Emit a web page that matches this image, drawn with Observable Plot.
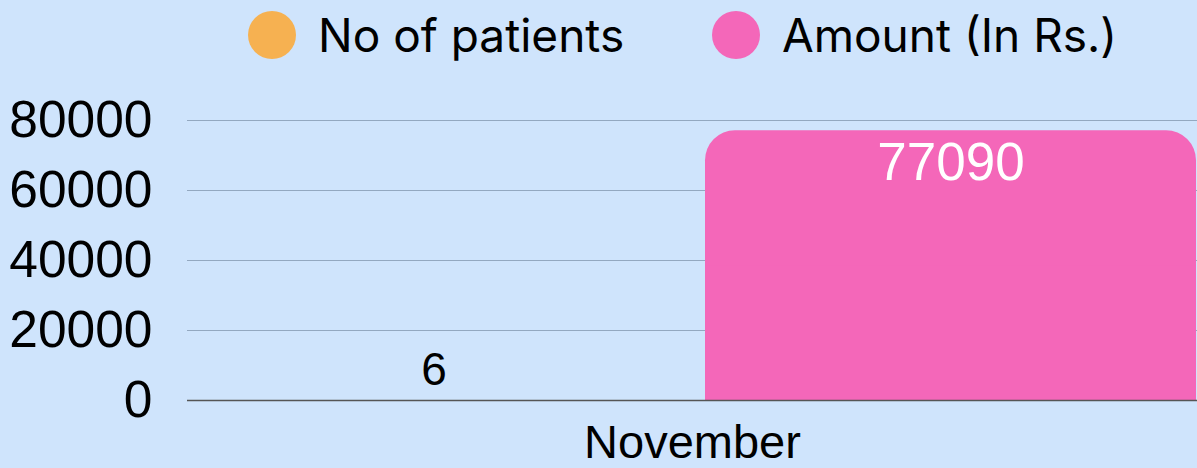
<!DOCTYPE html>
<html>
<head>
<meta charset="utf-8">
<script src="https://cdn.jsdelivr.net/npm/d3@7"></script>
<script src="https://cdn.jsdelivr.net/npm/@observablehq/plot@0.6"></script>
<style>
  html, body { margin: 0; padding: 0; background: #cfe4fc; width: 1197px; height: 468px; overflow: hidden; }
  #legend { height: 70px; position: relative; font-family: Inter, "Noto Sans", sans-serif; font-size: 46px; color: #000; }
  .item { position: absolute; top: 0; height: 70px; display: flex; align-items: center; }
  .sw { width: 48px; height: 48px; border-radius: 50%; margin-right: 22px; }
  #chart svg { display: block; }
</style>
</head>
<body>
<div id="legend"></div>
<div id="chart"></div>
<script>
const months = ["November"];
const seriesNames = ["No of patients", "Amount (In Rs.)"];
const seriesColors = ["#f6b151", "#f467b9"];
const patients = [6];
const amounts = [77090];
const yTicks = [0, 20000, 40000, 60000, 80000];

const data = [];
months.forEach((m, i) => {
  data.push({month: m, series: seriesNames[0], value: patients[i]});
  data.push({month: m, series: seriesNames[1], value: amounts[i]});
});

// legend
const legend = document.getElementById("legend");
const legendX = [248, 712];
seriesNames.forEach((s, i) => {
  const it = document.createElement("div");
  it.className = "item";
  it.style.left = legendX[i] + "px";
  const sw = document.createElement("div");
  sw.className = "sw";
  sw.style.background = seriesColors[i];
  const t = document.createElement("span");
  t.textContent = s;
  it.appendChild(sw); it.appendChild(t);
  legend.appendChild(it);
});

const maxV = d3.max(data, d => d.value);
const font = "'Liberation Sans', Arial, sans-serif";

const chart = Plot.plot({
  width: 1197,
  height: 398,
  marginTop: 50,
  marginBottom: 68,
  marginLeft: 187,
  marginRight: 0,
  style: {background: "transparent", fontFamily: font, fontSize: "50px", color: "#000", overflow: "visible"},
  fx: {domain: months, padding: 0, label: null},
  x: {domain: seriesNames, paddingInner: 0.05, paddingOuter: 0, axis: null},
  y: {domain: [0, 80000], label: null},
  color: {domain: seriesNames, range: seriesColors},
  marks: [
    Plot.ruleY(yTicks.filter(d => d > 0), {stroke: "#93a8c0", strokeWidth: 1.2}),
    Plot.barY(data, {fx: "month", x: "series", y: "value", fill: "series", rx: 30}),
    Plot.barY(data, {fx: "month", x: "series", y: d => d.value / 2, fill: "series"}),
    Plot.ruleY([0], {stroke: "#555", strokeWidth: 1.5}),
    Plot.axisY(yTicks, {tickSize: 0, tickPadding: 35, label: null, tickFormat: d => String(d), fontSize: 51.5}),
    Plot.axisFx({anchor: "bottom", tickSize: 0, tickPadding: 24, label: null, fontSize: 47}),
    Plot.text(data.filter(d => d.value < maxV * 0.1), {fx: "month", x: "series", y: "value", text: d => String(d.value), lineAnchor: "bottom", dy: -15, fill: "#000", fontSize: 46}),
    Plot.text(data.filter(d => d.value >= maxV * 0.1), {fx: "month", x: "series", y: "value", text: d => String(d.value), lineAnchor: "top", dy: 12, fill: "#fff", fontSize: 53})
  ]
});
document.getElementById("chart").appendChild(chart);
</script>
</body>
</html>
